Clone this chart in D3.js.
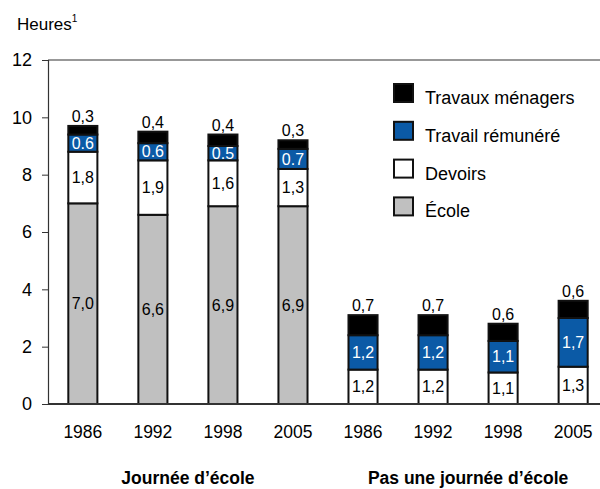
<!DOCTYPE html>
<html>
<head>
<meta charset="utf-8">
<script src="https://cdn.jsdelivr.net/npm/d3@7"></script>
<style>
  body { margin: 0; background: #fff; }
  text { font-family: "Liberation Sans", Arial, sans-serif; }
</style>
</head>
<body>
<div id="chart"></div>
<script>
// Emploi du temps des jeunes, heures par jour

var years = ["1986", "1992", "1998", "2005", "1986", "1992", "1998", "2005"];
var groups = ["Journée d’école", "Pas une journée d’école"];
var ecole = [7.0, 6.6, 6.9, 6.9, 0, 0, 0, 0];
var devoirs = [1.8, 1.9, 1.6, 1.3, 1.2, 1.2, 1.1, 1.3];
var travail = [0.6, 0.6, 0.5, 0.7, 1.2, 1.2, 1.1, 1.7];
var menagers = [0.3, 0.4, 0.4, 0.3, 0.7, 0.7, 0.6, 0.6];
var ecoleLabels = ["7,0", "6,6", "6,9", "6,9", "", "", "", ""];
var devoirsLabels = ["1,8", "1,9", "1,6", "1,3", "1,2", "1,2", "1,1", "1,3"];
var travailLabels = ["0.6", "0.6", "0.5", "0.7", "1,2", "1,2", "1,1", "1,7"];
var menagersLabels = ["0,3", "0,4", "0,4", "0,3", "0,7", "0,7", "0,6", "0,6"];
var yTicks = [0, 2, 4, 6, 8, 10, 12];

var svgWidth = 600, svgHeight = 489;

var svg = d3.select("#chart").append("svg")
  .attr("width", svgWidth)
  .attr("height", svgHeight);

var x = d3.scaleBand()
  .domain(d3.range(years.length))
  .range([48, 608])
  .paddingInner(0.585)
  .paddingOuter(0.29);

var y = d3.scaleLinear().domain([0, 12]).range([404, 60]);

// frame top line
svg.append("line")
  .attr("x1", 48).attr("x2", 600)
  .attr("y1", y(12)).attr("y2", y(12))
  .attr("stroke", "#333").attr("stroke-width", 1.2);

// y axis
var yAxis = svg.append("g")
  .attr("transform", "translate(48,0)")
  .call(d3.axisLeft(y).tickValues(yTicks).tickSize(6).tickPadding(10));
yAxis.select(".domain").attr("stroke", "#333").attr("stroke-width", 1.2);
yAxis.selectAll(".tick line").attr("stroke", "#333");
yAxis.selectAll("text").attr("font-size", 18).attr("fill", "#000")
  .style("font-family", "Liberation Sans, Arial, sans-serif");

svg.append("text")
  .attr("x", 17).attr("y", 30)
  .attr("font-size", 17)
  .text("Heures")
  .append("tspan").attr("font-size", 10).attr("dy", -8).text("1");

// stacked data
var keys = ["ecole", "devoirs", "travail", "menagers"];
var colors = { ecole: "#c0c0c0", devoirs: "#ffffff", travail: "#0b5aa6", menagers: "#000000" };
var rows = years.map(function (yr, i) {
  return { i: i, ecole: ecole[i], devoirs: devoirs[i], travail: travail[i], menagers: menagers[i] };
});
var series = d3.stack().keys(keys)(rows);

var layer = svg.selectAll(".layer")
  .data(series)
  .enter().append("g")
  .attr("fill", function (d) { return colors[d.key]; });

layer.selectAll("rect")
  .data(function (d) { return d.filter(function (s) { return s[1] > s[0]; }); })
  .enter().append("rect")
  .attr("x", function (d) { return x(d.data.i); })
  .attr("width", x.bandwidth())
  .attr("y", function (d) { return y(d[1]); })
  .attr("height", function (d) { return y(d[0]) - y(d[1]); })
  .attr("stroke", "#111")
  .attr("stroke-width", 2);

// segment labels
function segLabels(serie, labels, color) {
  svg.append("g").selectAll("text")
    .data(serie.filter(function (s) { return s[1] > s[0]; }))
    .enter().append("text")
    .attr("x", function (d) { return x(d.data.i) + x.bandwidth() / 2; })
    .attr("y", function (d) { return (y(d[0]) + y(d[1])) / 2; })
    .attr("dy", "0.35em")
    .attr("text-anchor", "middle")
    .attr("font-size", 16)
    .attr("fill", color)
    .text(function (d) { return labels[d.data.i]; });
}
segLabels(series[0], ecoleLabels, "#000");
segLabels(series[1], devoirsLabels, "#000");
segLabels(series[2], travailLabels, "#fff");

svg.append("g").selectAll("text")
  .data(series[3])
  .enter().append("text")
  .attr("x", function (d) { return x(d.data.i) + x.bandwidth() / 2; })
  .attr("y", function (d) { return y(d[1]) - 4; })
  .attr("text-anchor", "middle")
  .attr("font-size", 16)
  .text(function (d) { return menagersLabels[d.data.i]; });

// x axis
svg.append("line")
  .attr("x1", 48).attr("x2", 600)
  .attr("y1", y(0)).attr("y2", y(0))
  .attr("stroke", "#333").attr("stroke-width", 2);

svg.append("g").selectAll("text")
  .data(years)
  .enter().append("text")
  .attr("x", function (d, i) { return x(i) + x.bandwidth() / 2; })
  .attr("y", 438)
  .attr("text-anchor", "middle")
  .attr("font-size", 17.5)
  .text(function (d) { return d; });

svg.append("g").selectAll("text")
  .data(groups)
  .enter().append("text")
  .attr("x", function (d, g) { return (x(g * 4) + x(g * 4 + 3) + x.bandwidth()) / 2; })
  .attr("y", 484)
  .attr("text-anchor", "middle")
  .attr("font-size", 17.5)
  .attr("font-weight", "bold")
  .text(function (d) { return d; });

// legend
var legendItems = [
  { key: "menagers", label: "Travaux ménagers" },
  { key: "travail", label: "Travail rémunéré" },
  { key: "devoirs", label: "Devoirs" },
  { key: "ecole", label: "École" }
];
var legend = svg.append("g").selectAll("g")
  .data(legendItems)
  .enter().append("g")
  .attr("transform", function (d, i) { return "translate(394," + (84 + i * 37.8) + ")"; });
legend.append("rect")
  .attr("width", 19).attr("height", 18)
  .attr("fill", function (d) { return colors[d.key]; })
  .attr("stroke", "#111").attr("stroke-width", 2);
legend.append("text")
  .attr("x", 31).attr("y", 20)
  .attr("font-size", 18)
  .text(function (d) { return d.label; });
</script>
</body>
</html>
